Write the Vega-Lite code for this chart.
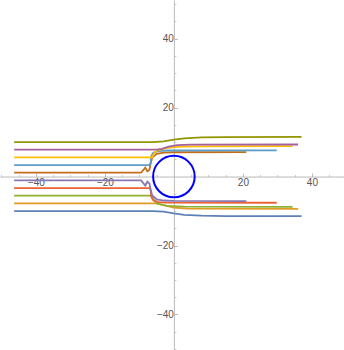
{
  "$schema": "https://vega.github.io/schema/vega-lite/v6.json",
  "width": 344,
  "height": 350,
  "autosize": "none",
  "padding": 0,
  "background": "white",
  "config": {"view": {"stroke": null}},
  "datasets": {
    "lines": [
      {"s": 1, "i": 1, "x": -46.3, "y": -10},
      {"s": 1, "i": 2, "x": -6, "y": -10},
      {"s": 1, "i": 3, "x": -3, "y": -10.2},
      {"s": 1, "i": 4, "x": 0, "y": -10.7},
      {"s": 1, "i": 5, "x": 3, "y": -11.1},
      {"s": 1, "i": 6, "x": 8, "y": -11.35},
      {"s": 1, "i": 7, "x": 15, "y": -11.45},
      {"s": 1, "i": 8, "x": 37, "y": -11.5},
      {"s": 2, "i": 1, "x": -46.3, "y": -7.78},
      {"s": 2, "i": 2, "x": -5, "y": -7.78},
      {"s": 2, "i": 3, "x": -3, "y": -8.3},
      {"s": 2, "i": 4, "x": 0, "y": -9.0},
      {"s": 2, "i": 5, "x": 4, "y": -9.3},
      {"s": 2, "i": 6, "x": 36, "y": -9.4},
      {"s": 3, "i": 1, "x": -46.3, "y": -5.56},
      {"s": 3, "i": 2, "x": -6.5, "y": -5.56},
      {"s": 3, "i": 3, "x": -6.0, "y": -6.5},
      {"s": 3, "i": 4, "x": -5, "y": -7.8},
      {"s": 3, "i": 5, "x": -2, "y": -8.5},
      {"s": 3, "i": 6, "x": 3, "y": -8.75},
      {"s": 3, "i": 7, "x": 34.4, "y": -8.8},
      {"s": 4, "i": 1, "x": -46.3, "y": -3.33},
      {"s": 4, "i": 2, "x": -7, "y": -3.33},
      {"s": 4, "i": 3, "x": -6.7, "y": -4.2},
      {"s": 4, "i": 4, "x": -6.6, "y": -5.8},
      {"s": 4, "i": 5, "x": -6.0, "y": -6.9},
      {"s": 4, "i": 6, "x": -4.5, "y": -7.4},
      {"s": 4, "i": 7, "x": -2, "y": -7.55},
      {"s": 4, "i": 8, "x": 29.8, "y": -7.6},
      {"s": 5, "i": 1, "x": -46.3, "y": -1.11},
      {"s": 5, "i": 2, "x": -9.5, "y": -1.11},
      {"s": 5, "i": 3, "x": -8.3, "y": -2.6},
      {"s": 5, "i": 4, "x": -7.7, "y": -1.5},
      {"s": 5, "i": 5, "x": -7.1, "y": -2.0},
      {"s": 5, "i": 6, "x": -6.8, "y": -3.5},
      {"s": 5, "i": 7, "x": -6.3, "y": -5.5},
      {"s": 5, "i": 8, "x": -5, "y": -6.6},
      {"s": 5, "i": 9, "x": -3, "y": -6.95},
      {"s": 5, "i": 10, "x": 0, "y": -7.05},
      {"s": 5, "i": 11, "x": 21, "y": -7.1},
      {"s": 6, "i": 1, "x": -46.3, "y": 1.11},
      {"s": 6, "i": 2, "x": -9.5, "y": 1.11},
      {"s": 6, "i": 3, "x": -8.3, "y": 2.6},
      {"s": 6, "i": 4, "x": -7.7, "y": 1.5},
      {"s": 6, "i": 5, "x": -7.1, "y": 2.0},
      {"s": 6, "i": 6, "x": -6.8, "y": 3.5},
      {"s": 6, "i": 7, "x": -6.3, "y": 5.5},
      {"s": 6, "i": 8, "x": -5, "y": 6.6},
      {"s": 6, "i": 9, "x": -3, "y": 6.95},
      {"s": 6, "i": 10, "x": 0, "y": 7.05},
      {"s": 6, "i": 11, "x": 21, "y": 7.1},
      {"s": 7, "i": 1, "x": -46.3, "y": 3.33},
      {"s": 7, "i": 2, "x": -7, "y": 3.33},
      {"s": 7, "i": 3, "x": -6.7, "y": 4.2},
      {"s": 7, "i": 4, "x": -6.6, "y": 5.8},
      {"s": 7, "i": 5, "x": -6.0, "y": 6.9},
      {"s": 7, "i": 6, "x": -4.5, "y": 7.4},
      {"s": 7, "i": 7, "x": -2, "y": 7.55},
      {"s": 7, "i": 8, "x": 29.8, "y": 7.6},
      {"s": 8, "i": 1, "x": -46.3, "y": 5.56},
      {"s": 8, "i": 2, "x": -6.3, "y": 5.56},
      {"s": 8, "i": 3, "x": -6.0, "y": 6.3},
      {"s": 8, "i": 4, "x": -5.5, "y": 7.1},
      {"s": 8, "i": 5, "x": -4.5, "y": 7.7},
      {"s": 8, "i": 6, "x": -2, "y": 8.3},
      {"s": 8, "i": 7, "x": 2, "y": 8.65},
      {"s": 8, "i": 8, "x": 8, "y": 8.75},
      {"s": 8, "i": 9, "x": 34.4, "y": 8.8},
      {"s": 9, "i": 1, "x": -46.3, "y": 7.78},
      {"s": 9, "i": 2, "x": -5, "y": 7.78},
      {"s": 9, "i": 3, "x": -3.5, "y": 8.0},
      {"s": 9, "i": 4, "x": -1.5, "y": 8.7},
      {"s": 9, "i": 5, "x": 1, "y": 9.1},
      {"s": 9, "i": 6, "x": 5, "y": 9.25},
      {"s": 9, "i": 7, "x": 36, "y": 9.3},
      {"s": 10, "i": 1, "x": -46.3, "y": 10},
      {"s": 10, "i": 2, "x": -6, "y": 10},
      {"s": 10, "i": 3, "x": -3, "y": 10.2},
      {"s": 10, "i": 4, "x": 0, "y": 10.7},
      {"s": 10, "i": 5, "x": 3, "y": 11.1},
      {"s": 10, "i": 6, "x": 8, "y": 11.35},
      {"s": 10, "i": 7, "x": 15, "y": 11.45},
      {"s": 10, "i": 8, "x": 37, "y": 11.5}
    ],
    "circle": [{"x": 0, "y": 0}]
  },
  "resolve": {"axis": {"x": "independent", "y": "independent"}},
  "layer": [
    {
      "data": {"name": "circle"},
      "mark": {"type": "point", "shape": "circle", "opacity": 0},
      "encoding": {
        "x": {
          "field": "x", "type": "quantitative",
          "scale": {"domain": [-50.4, 49.3], "nice": false, "zero": false},
          "axis": {
            "title": null, "orient": "bottom", "offset": -173.45,
            "values": [-50, -45, -35, -30, -25, -15, -10, -5, 5, 10, 15, 25, 30, 35, 45],
            "labels": false, "grid": false, "domain": false,
            "tickColor": "#c8c8c8", "tickSize": -2
          }
        },
        "y": {
          "field": "y", "type": "quantitative",
          "scale": {"domain": [-50.3, 51.2], "nice": false, "zero": false},
          "axis": {
            "title": null, "orient": "left", "offset": -173.9,
            "values": [-50, -45, -35, -30, -25, -15, -10, -5, 5, 10, 15, 25, 30, 35, 45, 50],
            "labels": false, "grid": false, "domain": false,
            "tickColor": "#c8c8c8", "tickSize": -2
          }
        }
      }
    },
    {
      "data": {"name": "lines"},
      "mark": {"type": "line", "strokeWidth": 1.8, "interpolate": "linear"},
      "encoding": {
        "x": {
          "field": "x", "type": "quantitative",
          "axis": {
            "title": null, "orient": "bottom", "offset": -173.45,
            "values": [-40, -20, 20, 40],
            "grid": false,
            "domainColor": "#bbbbbb", "tickColor": "#bbbbbb", "tickSize": -3.5,
            "labelPadding": 4, "labelColor": "#555555", "labelFontSize": 10
          }
        },
        "y": {
          "field": "y", "type": "quantitative",
          "axis": {
            "title": null, "orient": "left", "offset": -173.9,
            "values": [-40, -20, 20, 40],
            "grid": false,
            "domainColor": "#bbbbbb", "tickColor": "#bbbbbb", "tickSize": -3.5,
            "labelPadding": 4, "labelColor": "#555555", "labelFontSize": 10
          }
        },
        "color": {
          "field": "s", "type": "nominal",
          "scale": {
            "domain": [1, 2, 3, 4, 5, 6, 7, 8, 9, 10],
            "range": ["#5E81B5", "#E19C24", "#8FB032", "#EB6235", "#8778B3", "#C56E1A", "#5D9EC7", "#FFBF00", "#A5609D", "#929600"]
          },
          "legend": null
        },
        "order": {"field": "i", "type": "quantitative"}
      }
    },
    {
      "data": {"name": "circle"},
      "mark": {"type": "point", "shape": "circle", "filled": false, "size": 1730, "stroke": "#0000FF", "strokeWidth": 2, "opacity": 1},
      "encoding": {
        "x": {"field": "x", "type": "quantitative", "axis": null},
        "y": {"field": "y", "type": "quantitative", "axis": null}
      }
    }
  ]
}
